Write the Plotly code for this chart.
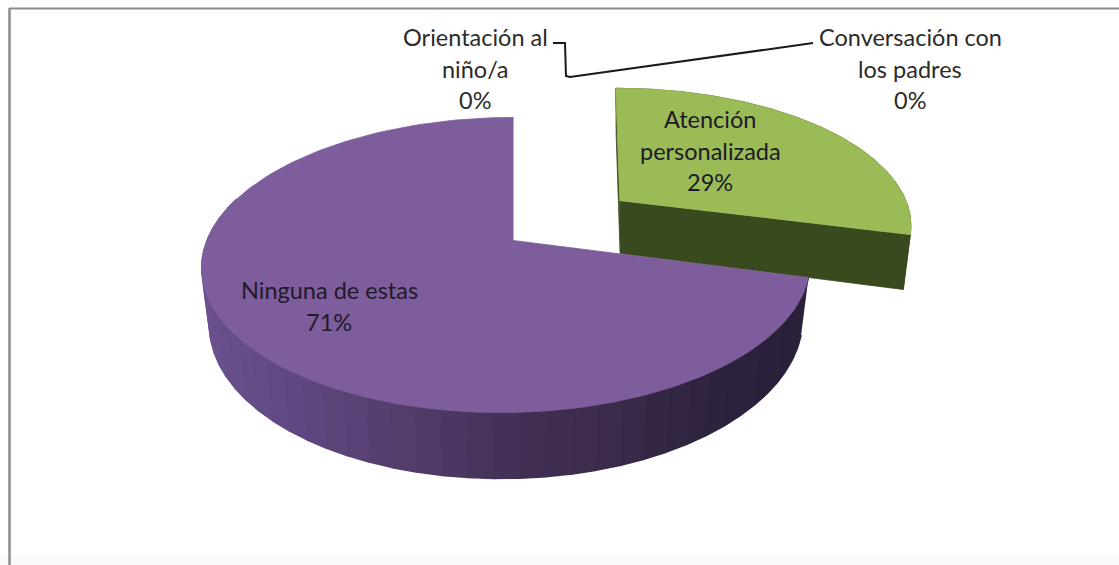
import numpy as np
import plotly.graph_objects as go

categories = ["Atención personalizada", "Conversación con los padres", "Orientación al niño/a", "Ninguna de estas"]
values = [29, 0, 0, 71]
pulls = [0.47, 0, 0, 0]
label_lines = [["Atención", "personalizada"], ["Conversación con", "los padres"], ["Orientación al", "niño/a"], ["Ninguna de estas"]]
label_x = [710, 910, 475, 329]
label_y = [119, 37, 37, 290]
top_colors = ["#9abb55", None, None, "#7d5d9c"]
cut_colors = ["#3a4a1f", None, None, "#2f2340"]
skews = [0, 0, 0, 6.5]
leans = [10.5, 0, 0, 0]
pivots = [630, 513.5, 513.5, 513.5]
side_stops_x = [205, 300, 400, 500, 600, 700, 810]
side_stops_rgb = [(107, 81, 141), (96, 71, 128), (84, 62, 108), (68, 50, 88), (60, 44, 76), (48, 36, 64), (42, 32, 58)]

CX, CY, FX, FY, K, DEPTH, SHRINK = 513.5, 240.5, 300, 143.5, 0.166, 55, 0.975


def project(X, Y, skew=0.0, bottom=False, lean=0.0, oy=0.0, pivot=CX):
    X, Y = np.asarray(X, float), np.asarray(Y, float)
    w = 1 + K * Y
    r = np.hypot(X, Y)
    x = CX + FX * X / w - skew * r * (1 - Y) + lean * (Y - oy)
    y = CY - FY * Y / w
    if bottom:
        x = pivot + SHRINK * (x - pivot)
        y = y + DEPTH / w
    return x, y


fig = go.Figure()


def poly(x, y, color, lw=0.8):
    fig.add_trace(go.Scatter(x=list(x), y=list(y), mode="lines", fill="toself", fillcolor=color,
                             line=dict(color=color, width=lw), hoverinfo="skip", showlegend=False))


def strip_color(px):
    r = np.interp(px, side_stops_x, [c[0] for c in side_stops_rgb])
    g = np.interp(px, side_stops_x, [c[1] for c in side_stops_rgb])
    b = np.interp(px, side_stops_x, [c[2] for c in side_stops_rgb])
    return f"rgb({int(r)},{int(g)},{int(b)})"


total = sum(values)
start = 0.0
sectors = []
for i, v in enumerate(values):
    span = 2 * np.pi * v / total
    sectors.append((i, start, start + span))
    start += span

for i, a, b in sectors:
    if values[i] == 0:
        continue
    mid = (a + b) / 2
    ox, oy = pulls[i] * np.sin(mid), pulls[i] * np.cos(mid)
    th = np.linspace(a, b, 181)
    X = ox + np.sin(th)
    Y = oy + np.cos(th)
    kw = dict(skew=skews[i], lean=leans[i], oy=oy, pivot=pivots[i])
    if i == 0:
        for edge in (a, b):
            ex, ey = ox + np.sin(edge), oy + np.cos(edge)
            x1, y1 = project([ox, ex], [oy, ey], **kw)
            x2, y2 = project([ox, ex], [oy, ey], bottom=True, **kw)
            poly(np.r_[x1, x2[::-1]], np.r_[y1, y2[::-1]], cut_colors[i])
        x1, y1 = project(X, Y, **kw)
        x2, y2 = project(X, Y, bottom=True, **kw)
        poly(np.r_[x1, x2[::-1]], np.r_[y1, y2[::-1]], cut_colors[i])
    else:
        vis = th[th < np.radians(290)]
        for t0, t1 in zip(vis[:-1:3], vis[3::3]):
            tt = np.array([t0, t1])
            xa, ya = project(ox + np.sin(tt), oy + np.cos(tt), **kw)
            xb, yb = project(ox + np.sin(tt), oy + np.cos(tt), bottom=True, **kw)
            poly(np.r_[xa, xb[::-1]], np.r_[ya, yb[::-1]], strip_color(xa.mean()), lw=1.6)
    xt, yt = project(np.r_[ox, X], np.r_[oy, Y], **kw)
    poly(xt, yt, top_colors[i])

# leader line joining the two zero-value labels
leader_x = [553, 565, 566, 570, 806, 813]
leader_y = [43, 43, 76, 77, 44, 43]
fig.add_trace(go.Scatter(x=leader_x, y=leader_y, mode="lines", line=dict(color="#1a1a1a", width=2),
                         hoverinfo="skip", showlegend=False))

anns = []
for i, lines in enumerate(label_lines):
    pct = f"{round(100 * values[i] / total)}%"
    for j, txt in enumerate(lines + [pct]):
        anns.append(dict(x=label_x[i], y=label_y[i] + j * 31.5, text=txt, showarrow=False,
                         xref="x", yref="y", xanchor="center", yanchor="middle",
                         font=dict(family="Lato", size=23.5, color="#2b2b2b" if i in (1, 2) else "#1f1a2a")))

shapes = [
    dict(type="rect", xref="x", yref="y", x0=0, x1=1119, y0=555, y1=565, fillcolor="#f9f9f9", line_width=0, layer="below"),
    dict(type="line", xref="x", yref="y", x0=9, x1=1119, y0=8.5, y1=8.5, line=dict(color="#8c8c8c", width=2), layer="below"),
    dict(type="line", xref="x", yref="y", x0=9.5, x1=9.5, y0=8, y1=565, line=dict(color="#8c8c8c", width=2.5), layer="below"),
]

fig.update_layout(
    width=1119, height=565, margin=dict(l=0, r=0, t=0, b=0),
    paper_bgcolor="white", plot_bgcolor="white", showlegend=False,
    xaxis=dict(range=[0, 1119], visible=False, fixedrange=True),
    yaxis=dict(range=[565, 0], visible=False, fixedrange=True),
    annotations=anns, shapes=shapes,
)
fig.write_html("out.html", config={"displayModeBar": False},
               post_script="document.body.style.margin='0';document.documentElement.style.overflow='hidden';")
